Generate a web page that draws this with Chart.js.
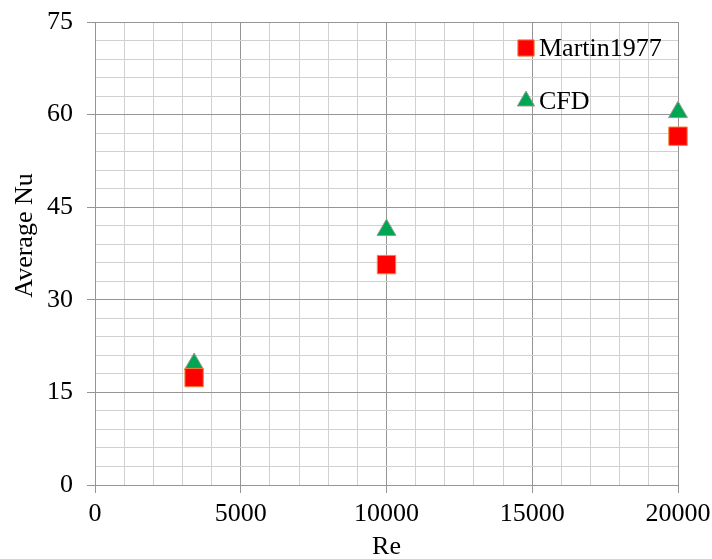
<!DOCTYPE html>
<html>
<head>
<meta charset="utf-8">
<script src="https://cdn.jsdelivr.net/npm/chart.js@4.4.0/dist/chart.umd.min.js"></script>
<style>
  body { margin: 0; background: #fff; }
  #wrap { width: 712px; height: 559px; }
</style>
</head>
<body>
<div id="wrap"><canvas id="nuChart"></canvas></div>
<script>
// Re values and average Nu
const reValues = [3400, 10000, 20000];
const martinNu = [17.4, 35.7, 56.5];
const cfdNu = [19.6, 41.3, 60.4];

const seriesNames = ['Martin1977', 'CFD'];
const yTitle = 'Average Nu';

const serif = 'Liberation Serif, Times New Roman, serif';
const majorGrid = '#959595';
const minorGrid = '#d0d0d0';

const toPoints = (xs, ys) => xs.map((x, i) => ({ x: x, y: ys[i] }));

// legend drawn inside the plot, top right, like the original
// plus the y title, which sits a bit above the middle in the original
const innerLegend = {
    id: 'innerLegend',
    afterDraw(chart) {
        const ctx = chart.ctx;
        const area = chart.chartArea;
        const x = area.left + 431;
        const rows = [area.top + 26, area.top + 79];
        chart.data.datasets.forEach((ds, i) => {
            ctx.save();
            ctx.fillStyle = ds.backgroundColor;
            ctx.strokeStyle = ds.borderColor;
            ctx.lineWidth = 1;
            Chart.helpers.drawPoint(ctx, {
                pointStyle: ds.pointStyle,
                radius: ds.pointStyle === 'rect' ? 11.5 : 10,
                borderWidth: 1
            }, x, rows[i]);
            ctx.fillStyle = '#000';
            ctx.font = '26px ' + serif;
            ctx.textBaseline = 'middle';
            ctx.textAlign = 'left';
            ctx.fillText(seriesNames[i], x + 13, rows[i] + 1);
            ctx.restore();
        });

        ctx.save();
        ctx.translate(area.left - 70, (area.top + area.bottom) / 2 - 18);
        ctx.rotate(-Math.PI / 2);
        ctx.fillStyle = '#000';
        ctx.font = '26px ' + serif;
        ctx.textAlign = 'center';
        ctx.textBaseline = 'middle';
        ctx.fillText(yTitle, 0, 0);
        ctx.restore();
    }
};

const ctxNu = document.getElementById('nuChart').getContext('2d');

new Chart(ctxNu, {
    type: 'scatter',
    data: {
        datasets: [
            {
                label: seriesNames[0],
                data: toPoints(reValues, martinNu),
                pointStyle: 'rect',
                pointRadius: 13,
                pointHoverRadius: 13,
                backgroundColor: '#ff0000',
                borderColor: '#f0883a',
                borderWidth: 1,
                clip: false
            },
            {
                label: seriesNames[1],
                data: toPoints(reValues, cfdNu),
                pointStyle: 'triangle',
                pointRadius: 11,
                pointHoverRadius: 11,
                backgroundColor: '#00a651',
                borderColor: '#9a9a9a',
                borderWidth: 1,
                clip: false
            }
        ]
    },
    options: {
        responsive: true,
        maintainAspectRatio: false,
        animation: false,
        layout: { padding: { top: 22, right: 34, left: 0, bottom: 0 } },
        plugins: {
            legend: { display: false },
            tooltip: { enabled: false }
        },
        scales: {
            x: {
                type: 'linear',
                min: 0,
                max: 20000,
                afterFit(scale) {
                    scale.height = 74;
                    scale.paddingLeft = 0;
                    scale.paddingRight = 0;
                },
                ticks: {
                    stepSize: 1000,
                    autoSkip: false,
                    maxRotation: 0,
                    padding: 6,
                    color: '#000',
                    font: { family: serif, size: 26 },
                    callback: v => (v % 5000 === 0 ? String(v) : '')
                },
                grid: {
                    color: c => (c.tick && c.tick.value % 5000 === 0 ? majorGrid : minorGrid),
                    tickColor: c => (c.tick && c.tick.value % 5000 === 0 ? majorGrid : 'rgba(0,0,0,0)'),
                    tickLength: 8,
                    lineWidth: 1
                },
                border: { color: majorGrid },
                title: {
                    display: true,
                    text: 'Re',
                    color: '#000',
                    font: { family: serif, size: 26, lineHeight: 0.9 },
                    padding: { top: 0, bottom: 0 }
                }
            },
            y: {
                min: 0,
                max: 75,
                afterFit(scale) {
                    scale.width = 95;
                    scale.paddingTop = 0;
                    scale.paddingBottom = 0;
                },
                ticks: {
                    stepSize: 3,
                    autoSkip: false,
                    padding: 14,
                    color: '#000',
                    font: { family: serif, size: 26 },
                    callback: v => (v % 15 === 0 ? String(v) : '')
                },
                grid: {
                    color: c => (c.tick && c.tick.value % 15 === 0 ? majorGrid : minorGrid),
                    tickColor: c => (c.tick && c.tick.value % 15 === 0 ? majorGrid : 'rgba(0,0,0,0)'),
                    tickLength: 8,
                    lineWidth: 1
                },
                border: { color: majorGrid }
            }
        }
    },
    plugins: [innerLegend]
});
</script>
</body>
</html>
